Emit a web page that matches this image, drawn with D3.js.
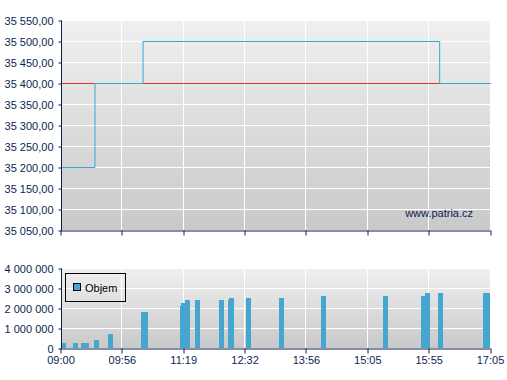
<!DOCTYPE html>
<html>
<head>
<meta charset="utf-8">
<script src="https://cdn.jsdelivr.net/npm/d3@7"></script>
<style>
  body { margin: 0; background: #fff; }
  svg { display: block; font-family: "Liberation Sans", Arial, sans-serif; }
  .axis path, .axis line { stroke: #0b1f4f; }
  .axis text { fill: #0b1f4f; font-size: 11px; }
  .grid line { stroke: #fff; stroke-width: 1; }
</style>
</head>
<body>
<div id="chart"></div>
<script>
// times in "HH:MM"
const tickTimes = ['09:00', '09:56', '11:19', '12:32', '13:56', '15:05', '15:55', '17:05'];
const priceTicks = [35050, 35100, 35150, 35200, 35250, 35300, 35350, 35400, 35450, 35500, 35550];
const volumeTicks = [0, 1000000, 2000000, 3000000, 4000000];
const refPrice = 35400;
const priceTimes = ['09:00', '09:31', '10:24', '16:07', '17:05'];
const priceValues = [35200, 35400, 35500, 35400, 35400];
const volTimes = ['09:00', '09:11', '09:18', '09:21', '09:30', '09:43', '10:21', '10:24', '11:14', '11:15', '11:20', '11:32',
  '12:01', '12:12', '12:13', '12:33', '13:18', '14:12', '15:17', '15:48', '15:52', '16:05', '16:56', '16:59'];
const volValues = [250000, 250000, 250000, 250000, 400000, 700000, 1800000, 1800000, 2100000, 2250000, 2400000, 2400000,
  2400000, 2400000, 2500000, 2500000, 2500000, 2600000, 2600000, 2600000, 2750000, 2750000, 2750000, 2750000];

const toMin = s => { const p = s.split(':'); return +p[0] * 60 + +p[1]; };

const width = 507, height = 380;
const left = 61, right = 490.5;
const top1 = 20, bottom1 = 230;
const top2 = 268, bottom2 = 348;

const svg = d3.select('#chart').append('svg').attr('width', width).attr('height', height);

// the time axis is not linear: each labelled interval gets the same width
const step = (right - left) / (tickTimes.length - 1);
const x = d3.scaleLinear().domain(tickTimes.map(toMin)).range(tickTimes.map((d, i) => left + i * step));

const y1 = d3.scaleLinear().domain([35050, 35550]).range([bottom1, top1]);
const y2 = d3.scaleLinear().domain([0, 4000000]).range([bottom2, top2]);

const cz = d3.formatLocale({ decimal: ',', thousands: ' ', grouping: [3], currency: ['', ''] });
const fPrice = cz.format(',.2f');
const fVol = cz.format(',.0f');

const defs = svg.append('defs');
const grad = defs.append('linearGradient').attr('id', 'bg').attr('x1', 0).attr('y1', 0).attr('x2', 0).attr('y2', 1);
grad.append('stop').attr('offset', '0%').attr('stop-color', '#f0f0f0');
grad.append('stop').attr('offset', '100%').attr('stop-color', '#c9c9c9');

function panel(top, bottom, y, ticks, fmt) {
  svg.append('rect').attr('x', left).attr('y', top).attr('width', right - left).attr('height', bottom - top).attr('fill', 'url(#bg)');
  const g = svg.append('g').attr('class', 'grid');
  g.selectAll('.h').data(ticks).enter().append('line').attr('class', 'h')
    .attr('x1', left).attr('x2', right).attr('y1', d => Math.round(y(d)) + 0.5).attr('y2', d => Math.round(y(d)) + 0.5);
  g.selectAll('.v').data(tickTimes.slice(1)).enter().append('line').attr('class', 'v')
    .attr('y1', top).attr('y2', bottom).attr('x1', d => Math.round(x(toMin(d))) - 0.5).attr('x2', d => Math.round(x(toMin(d))) - 0.5);
}

function axes(top, bottom, y, ticks, fmt, labels) {
  const yAxis = d3.axisLeft(y).tickValues(ticks).tickFormat(fmt).tickSize(3).tickPadding(5);
  svg.append('g').attr('class', 'axis').attr('transform', 'translate(' + (left + 0.5) + ',0.5)').call(yAxis)
    .call(g => g.select('.domain').attr('d', 'M0,' + top + 'V' + bottom));
  const xAxis = d3.axisBottom(x).tickValues(tickTimes.map(toMin)).tickSize(5).tickSizeOuter(0).tickPadding(3)
    .tickFormat((d, i) => labels ? tickTimes[i] : '');
  const gx = svg.append('g').attr('class', 'axis').attr('transform', 'translate(-0.5,' + (bottom + 0.5) + ')').call(xAxis);
  gx.selectAll('.tick line').attr('transform', d => 'translate(' + (Math.round(x(d)) - x(d)) + ',0)');
  gx.selectAll('text').attr('font-size', '12px');
}

// price panel
panel(top1, bottom1, y1, priceTicks, fPrice);
svg.append('line').attr('x1', left).attr('x2', right).attr('y1', Math.round(y1(refPrice)) + 0.5).attr('y2', Math.round(y1(refPrice)) + 0.5)
  .attr('stroke', '#e2332b').attr('stroke-width', 1);
const priceData = priceTimes.map((t, i) => [x(toMin(t)), Math.round(y1(priceValues[i])) + 0.5]);
const line = d3.line().curve(d3.curveStepAfter);
svg.append('path').attr('d', line(priceData)).attr('fill', 'none').attr('stroke', '#3aa6d6').attr('stroke-width', 1);
svg.append('text').attr('x', 473).attr('y', 217).attr('text-anchor', 'end').attr('font-size', '11px').attr('fill', '#0b1f4f').text('www.patria.cz');
axes(top1, bottom1, y1, priceTicks, fPrice, false);

// volume panel
panel(top2, bottom2, y2, volumeTicks, fVol);
svg.append('g').selectAll('rect').data(volTimes).enter().append('rect')
  .attr('x', d => Math.round(x(toMin(d))))
  .attr('y', (d, i) => y2(volValues[i]))
  .attr('width', d => Math.min(5, right - Math.round(x(toMin(d)))))
  .attr('height', (d, i) => bottom2 - y2(volValues[i]))
  .attr('fill', '#45a6d0');
const legend = svg.append('g');
legend.append('rect').attr('x', 65.5).attr('y', 273.5).attr('width', 60).attr('height', 28).attr('fill', 'none').attr('stroke', '#000');
legend.append('rect').attr('x', 73.5).attr('y', 283.5).attr('width', 7).attr('height', 7).attr('fill', '#45a6d0').attr('stroke', '#000');
legend.append('text').attr('x', 85).attr('y', 292).attr('font-size', '11px').attr('fill', '#000').text('Objem');
axes(top2, bottom2, y2, volumeTicks, fVol, true);
</script>
</body>
</html>
